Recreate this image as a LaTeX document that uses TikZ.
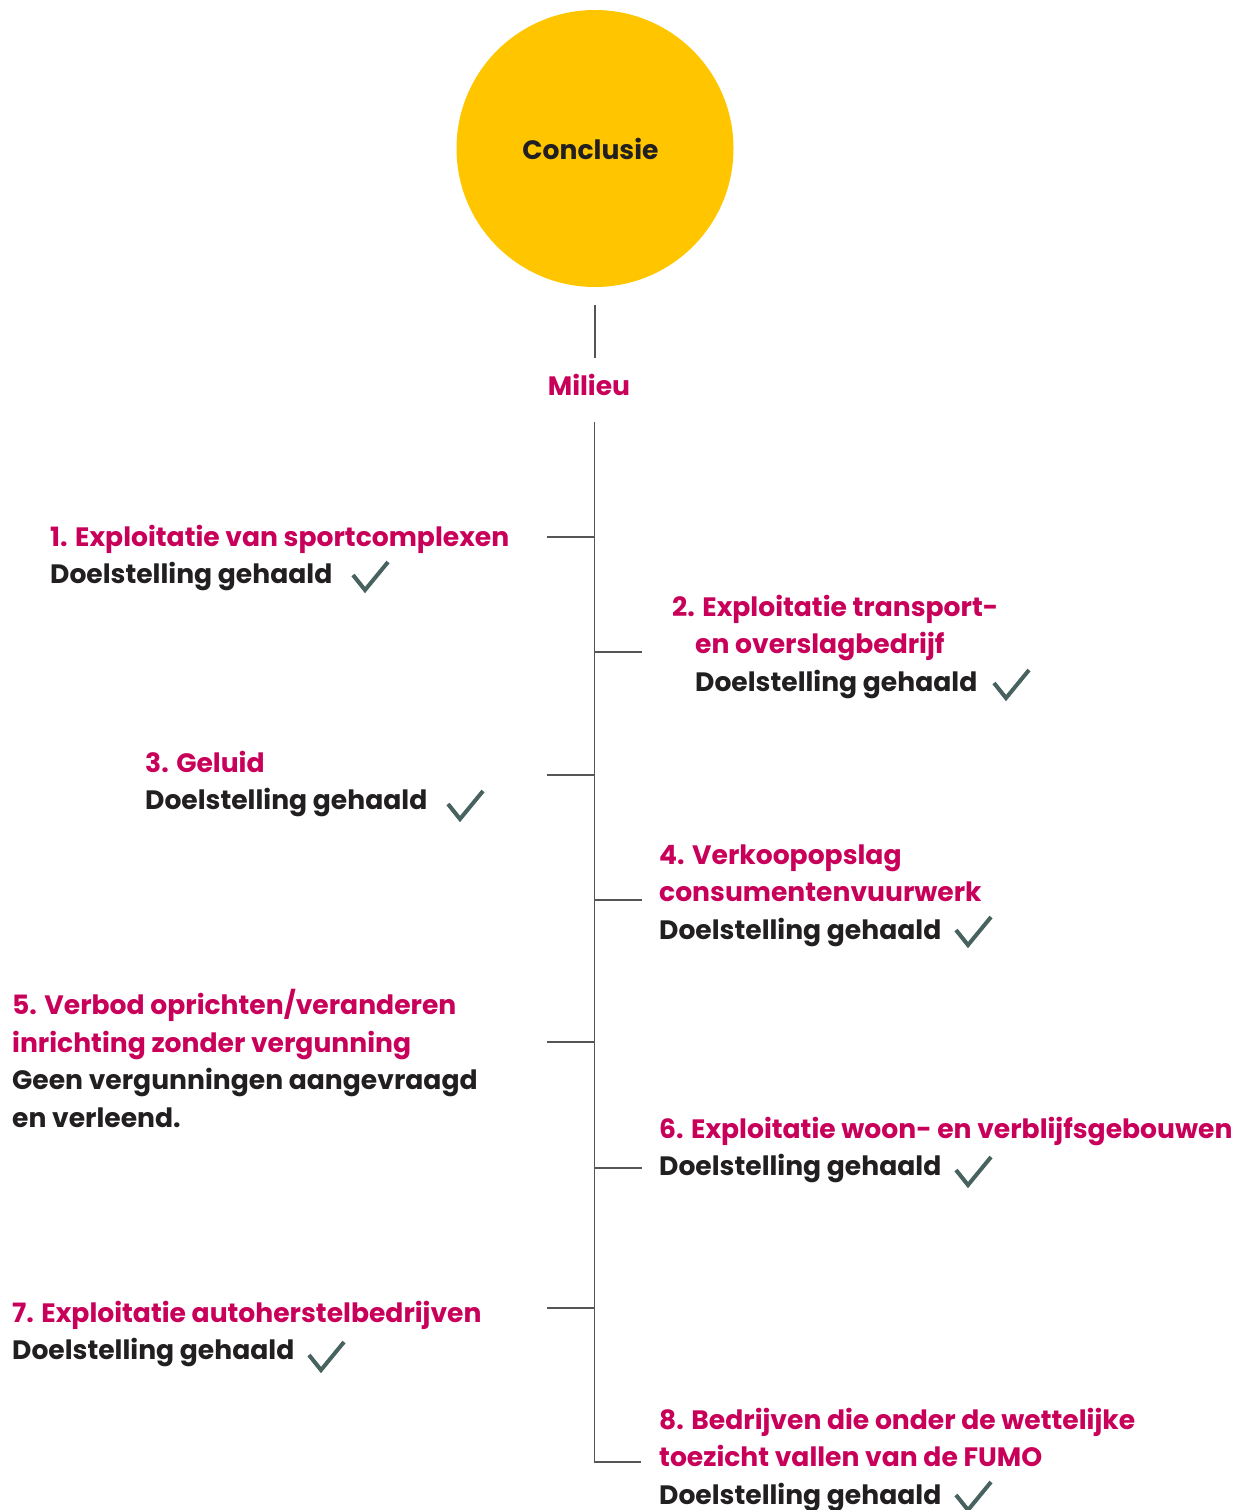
\documentclass[tikz,border=0pt]{standalone}
\usepackage{fontspec}
\setmainfont{Poppins}
\definecolor{mag}{RGB}{200,0,90}
\definecolor{ink}{RGB}{34,31,32}
\definecolor{chkc}{RGB}{72,98,96}
\definecolor{sun}{RGB}{255,198,0}
\definecolor{wire}{RGB}{85,85,85}
\tikzset{
  title/.style={anchor=base west, inner sep=0pt, align=left, text=mag,
    font=\fontsize{26.6}{37.5}\selectfont\bfseries},
  status/.style={anchor=base west, inner sep=0pt, align=left, text=ink,
    font=\fontsize{26.6}{37.5}\selectfont\bfseries},
  wireline/.style={draw=wire, line width=1.3pt},
  chk/.pic={\draw[chkc, line width=4pt, line join=miter] (0,0) -- (12,15) -- (35,-13);}
}
\begin{document}
\begin{tikzpicture}[x=1pt,y=-1pt]
\useasboundingbox (0,0) rectangle (1243,1510);
% head
\node[circle, fill=sun, minimum size=277pt, inner sep=0pt, text=ink,
  font=\fontsize{26.6}{30}\selectfont\bfseries] (conc) at (595,148.5) {\raisebox{-2pt}{Conclusie}\hspace*{9pt}};
\node[text=mag, inner sep=0pt, font=\fontsize{26.6}{30}\selectfont\bfseries] (milieu) at (589,385) {Milieu};
\coordinate (c1) at (595,305);
\coordinate (c2) at (595,358);
\draw[wireline] (c1) -- (c2);
% spine
\coordinate (top) at (594.5,422);
\coordinate (bot) at (594.5,1462);
\coordinate (botend) at (641,1462);
\draw[wireline] (top) -- (bot) -- (botend);
% branch points
\foreach \n/\y in {b1/537,b3/775,b5/1042,b7/1308}{
  \coordinate (\n s) at (594.5,\y); \coordinate (\n e) at (547,\y);
  \draw[wireline] (\n s) -- (\n e);}
\foreach \n/\y in {b2/652,b4/900,b6/1168}{
  \coordinate (\n s) at (594.5,\y); \coordinate (\n e) at (642,\y);
  \draw[wireline] (\n s) -- (\n e);}
% item 1
\node[title] (t1) at (50,546) {1. Exploitatie van sportcomplexen};
\node[status] (s1) at (50,583.5) {Doelstelling gehaald};
% item 2
\node[title] (t2) at (672,653.5) {2. Exploitatie transport-\\\hspace*{23pt}en overslagbedrijf};
\node[status] (s2) at (695,691) {Doelstelling gehaald};
% item 3
\node[title] (t3) at (145,772) {3. Geluid};
\node[status] (s3) at (145,809.5) {Doelstelling gehaald};
% item 4
\node[title] (t4) at (659,901.5) {4. Verkoopopslag\\consumentenvuurwerk};
\node[status] (s4) at (659,939) {Doelstelling gehaald};
% item 5
\node[title] (t5) at (12,1052) {5. Verbod oprichten/veranderen\\inrichting zonder vergunning};
\node[status] (s5) at (12,1127) {Geen vergunningen aangevraagd\\en verleend.};
% item 6
\node[title] (t6) at (659,1138) {6. Exploitatie woon- en verblijfsgebouwen};
\node[status] (s6) at (659,1175.5) {Doelstelling gehaald};
% item 7
\node[title] (t7) at (12,1322) {7. Exploitatie autoherstelbedrijven};
\node[status] (s7) at (12,1359.5) {Doelstelling gehaald};
% item 8
\node[title] (t8) at (659,1466.5) {8. Bedrijven die onder de wettelijke\\toezicht vallen van de FUMO};
\node[status] (s8) at (659,1504) {Doelstelling gehaald};
% checks
\pic at (353,575) {chk};
\pic at (994,683) {chk};
\pic at (448,804) {chk};
\pic at (956,930) {chk};
\pic at (956,1170) {chk};
\pic at (309,1355) {chk};
\pic at (956,1495) {chk};
\end{tikzpicture}
\end{document}
